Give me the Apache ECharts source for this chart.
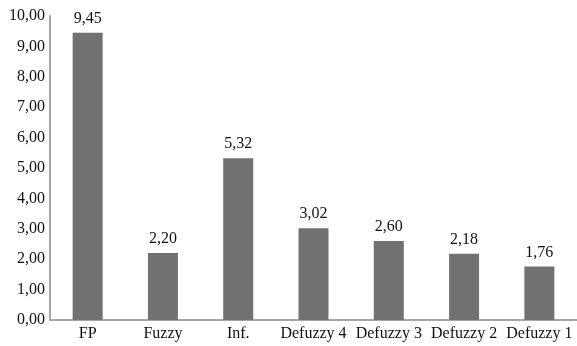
<!DOCTYPE html>
<html>
<head>
<meta charset="utf-8">
<script src="https://cdn.jsdelivr.net/npm/echarts@6/dist/echarts.min.js"></script>
<style>
  html, body { margin: 0; padding: 0; background: #fff; }
  #chart { width: 577px; height: 346px; }
</style>
</head>
<body>
<div id="chart"></div>
<script>
const categories = ['FP', 'Fuzzy', 'Inf.', 'Defuzzy 4', 'Defuzzy 3', 'Defuzzy 2', 'Defuzzy 1'];
const values = [9.45, 2.20, 5.32, 3.02, 2.60, 2.18, 1.76];

const fmt = v => v.toFixed(2).replace('.', ',');
const font = '"Liberation Serif", "Times New Roman", serif';

const chart = echarts.init(document.getElementById('chart'));
chart.setOption({
  animation: false,
  textStyle: { fontFamily: font },
  grid: { left: 50, right: 0, top: 16, bottom: 26, containLabel: false },
  xAxis: {
    type: 'category',
    data: categories,
    axisLine: { lineStyle: { color: '#a6a6a6', width: 2 } },
    axisTick: { show: false },
    axisLabel: { color: '#111', fontFamily: font, fontSize: 16, margin: 6, interval: 0 }
  },
  yAxis: {
    type: 'value',
    min: 0, max: 10, interval: 1,
    splitLine: { show: false },
    axisLine: { show: true, lineStyle: { color: '#a6a6a6', width: 2 } },
    axisTick: { show: false },
    axisLabel: { color: '#111', fontFamily: font, fontSize: 16, margin: 5, formatter: fmt }
  },
  series: [{
    type: 'bar',
    data: values,
    barWidth: 30,
    itemStyle: { color: '#717171' },
    label: {
      show: true, position: 'top', distance: 6,
      color: '#111', fontFamily: font, fontSize: 16,
      formatter: p => fmt(p.value)
    }
  }]
});
</script>
</body>
</html>
